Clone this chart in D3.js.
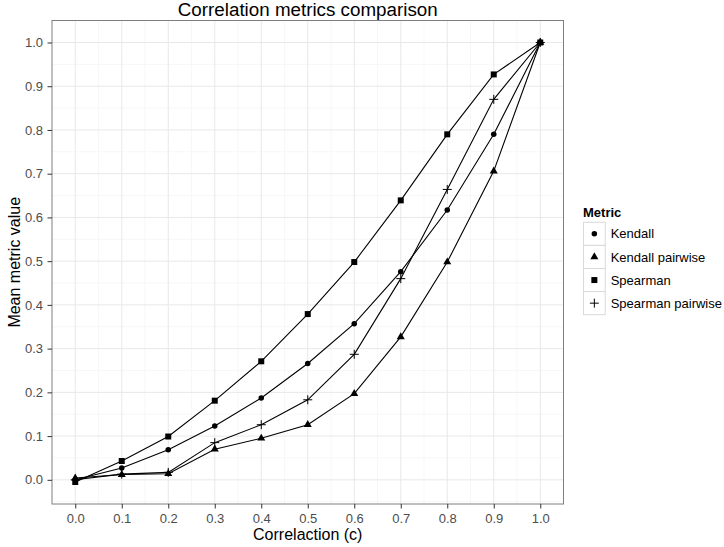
<!DOCTYPE html>
<html>
<head>
<meta charset="utf-8">
<script src="https://cdn.jsdelivr.net/npm/d3@7"></script>
<style>
  body { margin: 0; background: #fff; }
  text { font-family: "Liberation Sans", Arial, sans-serif; }
</style>
</head>
<body>
<div id="chart"></div>
<script>
// correlation levels on the x axis
var corrLevels = [0, 0.1, 0.2, 0.3, 0.4, 0.5, 0.6, 0.7, 0.8, 0.9, 1.0];

// mean metric values
var kendall          = [0.000, 0.027, 0.069, 0.123, 0.187, 0.266, 0.357, 0.476, 0.617, 0.790, 1.0];
var kendallPairwise  = [0.004, 0.012, 0.014, 0.070, 0.095, 0.126, 0.197, 0.327, 0.498, 0.706, 1.0];
var spearman         = [-0.005, 0.043, 0.099, 0.181, 0.271, 0.379, 0.498, 0.639, 0.790, 0.927, 1.0];
var spearmanPairwise = [0.000, 0.013, 0.017, 0.085, 0.126, 0.183, 0.287, 0.460, 0.664, 0.870, 1.0];

var metricNames = ["Kendall", "Kendall pairwise", "Spearman", "Spearman pairwise"];
var xTicks = [0, 0.1, 0.2, 0.3, 0.4, 0.5, 0.6, 0.7, 0.8, 0.9, 1.0];
var yTicks = [0, 0.1, 0.2, 0.3, 0.4, 0.5, 0.6, 0.7, 0.8, 0.9, 1.0];

var series = [
  {name: metricNames[0], values: kendall, shape: d3.symbolCircle, size: 24},
  {name: metricNames[1], values: kendallPairwise, shape: d3.symbolTriangle, size: 28},
  {name: metricNames[2], values: spearman, shape: d3.symbolSquare, size: 36},
  {name: metricNames[3], values: spearmanPairwise, shape: "plus", size: 0}
];

var width = 724;
var height = 547;
var panel = {left: 52, top: 20.5, right: 563.5, bottom: 504};

var svg = d3.select("#chart")
  .append("svg")
  .attr("width", width)
  .attr("height", height);

var x = d3.scaleLinear().domain([-0.05, 1.05]).range([panel.left, panel.right]);
var y = d3.scaleLinear().domain([-0.0553, 1.0503]).range([panel.bottom, panel.top]);

//panel background
svg.append("rect")
  .attr("x", panel.left).attr("y", panel.top)
  .attr("width", panel.right - panel.left)
  .attr("height", panel.bottom - panel.top)
  .attr("fill", "white");

//minor grid lines (halfway between majors)
var minorY = [-0.05].concat(yTicks.slice(0, -1).map(d => d + 0.05)).concat([1.05]);

svg.append("g").selectAll("line")
  .data(xTicks.slice(0, -1).map(d => d + 0.05))
  .enter().append("line")
  .attr("x1", d => x(d)).attr("x2", d => x(d))
  .attr("y1", panel.top).attr("y2", panel.bottom)
  .attr("stroke", "#f7f7f7").attr("stroke-width", 1);

svg.append("g").selectAll("line")
  .data(minorY.filter(d => y(d) > panel.top && y(d) < panel.bottom))
  .enter().append("line")
  .attr("x1", panel.left).attr("x2", panel.right)
  .attr("y1", d => y(d)).attr("y2", d => y(d))
  .attr("stroke", "#f7f7f7").attr("stroke-width", 1);

//major grid lines
svg.append("g").selectAll("line")
  .data(xTicks)
  .enter().append("line")
  .attr("x1", d => x(d)).attr("x2", d => x(d))
  .attr("y1", panel.top).attr("y2", panel.bottom)
  .attr("stroke", "#e8e8e8").attr("stroke-width", 1);

svg.append("g").selectAll("line")
  .data(yTicks)
  .enter().append("line")
  .attr("x1", panel.left).attr("x2", panel.right)
  .attr("y1", d => y(d)).attr("y2", d => y(d))
  .attr("stroke", "#e8e8e8").attr("stroke-width", 1);

//lines
var line = d3.line()
  .x((d, i) => x(corrLevels[i]))
  .y(d => y(d));

series.forEach(s => {
  svg.append("path")
    .datum(s.values)
    .attr("d", line)
    .attr("fill", "none")
    .attr("stroke", "black")
    .attr("stroke-width", 1.1);
});

//points
function drawShape(g, s, cx, cy) {
  if (s.shape === "plus") {
    g.append("path")
      .attr("d", "M" + (cx - 4.5) + "," + cy + "H" + (cx + 4.5) + "M" + cx + "," + (cy - 4.5) + "V" + (cy + 4.5))
      .attr("stroke", "black").attr("stroke-width", 1).attr("fill", "none");
  } else {
    g.append("path")
      .attr("d", d3.symbol().type(s.shape).size(s.size)())
      .attr("transform", "translate(" + cx + "," + cy + ")")
      .attr("fill", "black");
  }
}

var pts = svg.append("g");
series.forEach(s => {
  s.values.forEach((v, i) => drawShape(pts, s, x(corrLevels[i]), y(v)));
});

//panel border
svg.append("rect")
  .attr("x", panel.left).attr("y", panel.top)
  .attr("width", panel.right - panel.left)
  .attr("height", panel.bottom - panel.top)
  .attr("fill", "none")
  .attr("stroke", "#7f7f7f").attr("stroke-width", 1);

//axes
var xAxis = svg.append("g")
  .attr("transform", "translate(0," + panel.bottom + ")")
  .call(d3.axisBottom(x).tickValues(xTicks).tickFormat(d3.format(".1f")).tickSizeInner(4.5).tickSizeOuter(0).tickPadding(5.5));

var yAxis = svg.append("g")
  .attr("transform", "translate(" + panel.left + ",0)")
  .call(d3.axisLeft(y).tickValues(yTicks).tickFormat(d3.format(".1f")).tickSizeInner(4.5).tickSizeOuter(0).tickPadding(4.5));

[xAxis, yAxis].forEach(a => {
  a.select(".domain").remove();
  a.selectAll(".tick line").attr("stroke", "#333").attr("stroke-width", 1);
  a.selectAll(".tick text")
    .attr("fill", "#4d4d4d")
    .style("font-size", "13px")
    .style("font-family", "'Liberation Sans', Arial, sans-serif");
});

//titles
svg.append("text")
  .attr("x", (panel.left + panel.right) / 2)
  .attr("y", 16)
  .attr("text-anchor", "middle")
  .style("font-size", "18.8px")
  .text("Correlation metrics comparison");

svg.append("text")
  .attr("x", (panel.left + panel.right) / 2)
  .attr("y", 540)
  .attr("text-anchor", "middle")
  .style("font-size", "16px")
  .text("Correlaction (c)");

svg.append("text")
  .attr("transform", "translate(20," + ((panel.top + panel.bottom) / 2) + ") rotate(-90)")
  .attr("text-anchor", "middle")
  .style("font-size", "16px")
  .text("Mean metric value");

//legend
var legend = svg.append("g").attr("transform", "translate(583,0)");

legend.append("text")
  .attr("x", 0).attr("y", 216.5)
  .style("font-size", "13px")
  .style("font-weight", "bold")
  .text("Metric");

var keyW = 21.7, keyH = 23.1;
series.forEach((s, i) => {
  var top = 222.3 + i * keyH;
  legend.append("rect")
    .attr("x", 0.5).attr("y", top)
    .attr("width", keyW).attr("height", keyH)
    .attr("fill", "white")
    .attr("stroke", "#d9d9d9").attr("stroke-width", 1);
  drawShape(legend, s, 0.5 + keyW / 2, top + keyH / 2);
  legend.append("text")
    .attr("x", keyW + 6).attr("y", top + keyH / 2 + 4.6)
    .style("font-size", "13px")
    .text(s.name);
});
</script>
</body>
</html>
